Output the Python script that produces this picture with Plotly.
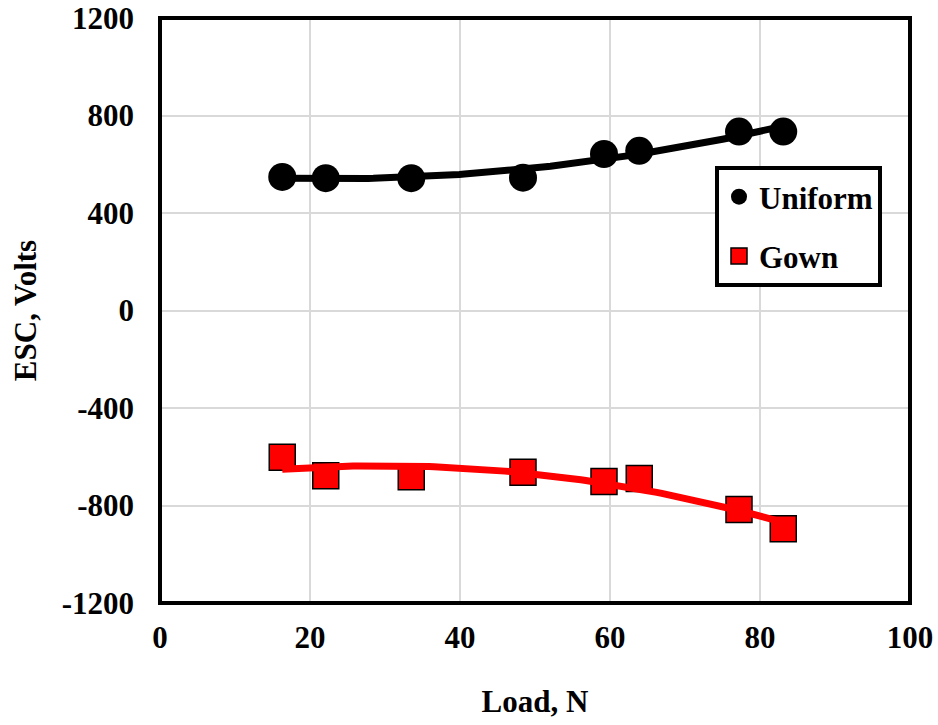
import numpy as np
import plotly.graph_objects as go

load_uniform = [16.3, 22.1, 33.5, 48.4, 59.2, 63.9, 77.2, 83.1]
esc_uniform = [548, 543, 543, 545, 642, 655, 734, 734]
load_gown = [16.3, 22.1, 33.5, 48.4, 59.2, 63.9, 77.2, 83.1]
esc_gown = [-602, -678, -682, -664, -702, -689, -816, -895]

x_ticks = [0, 20, 40, 60, 80, 100]
y_ticks = [-1200, -800, -400, 0, 400, 800, 1200]

FONT = "Liberation Serif, Times New Roman, serif"

fig = go.Figure()

fig.add_trace(go.Scatter(
    x=load_uniform, y=esc_uniform, mode="markers", name="Uniform",
    marker=dict(symbol="circle", size=28, color="black"),
    legendgroup="u"))
fig.add_trace(go.Scatter(
    x=load_gown, y=esc_gown, mode="markers", name="Gown",
    marker=dict(symbol="square", size=26, color="#ff0000",
                line=dict(color="black", width=1.5)),
    legendgroup="g"))

for xs, ys, col in [(load_uniform, esc_uniform, "black"), (load_gown, esc_gown, "#ff0000")]:
    c = np.polyfit(xs, ys, 2)
    xf = np.linspace(min(xs), max(xs), 100)
    fig.add_trace(go.Scatter(x=xf, y=np.polyval(c, xf), mode="lines",
                             line=dict(color=col, width=7), showlegend=False,
                             hoverinfo="skip"))

bold = dict(family=FONT, size=31, color="black", weight="bold")
axis_common = dict(
    showgrid=True, gridcolor="#d9d9d9", gridwidth=1.5,
    zeroline=False, showline=False, ticks="", automargin=False,
    tickfont=bold,
)

fig.update_xaxes(range=[0, 100], tickvals=x_ticks, ticktext=[str(v) for v in x_ticks],
                 title=dict(text="Load, N", font=bold, standoff=36),
                 ticklabelstandoff=13, **axis_common)
fig.update_yaxes(range=[-1200, 1200], tickvals=y_ticks, ticktext=[str(v) for v in y_ticks],
                 title=dict(text="ESC, Volts", font=bold, standoff=15),
                 ticklabelstandoff=25, **axis_common)

fig.add_shape(type="rect", xref="paper", yref="paper", x0=0, y0=0, x1=1, y1=1,
              line=dict(color="black", width=4), layer="above")

fig.update_layout(
    width=938, height=725,
    margin=dict(l=160, r=28, t=18, b=122),
    plot_bgcolor="white", paper_bgcolor="white",
    showlegend=True,
    legend=dict(x=0.74, y=0.747, xanchor="left", yanchor="top",
                bgcolor="white", bordercolor="black", borderwidth=4,
                font=bold,
                tracegroupgap=16, traceorder="grouped"),
)

fig.write_html("out.html")
